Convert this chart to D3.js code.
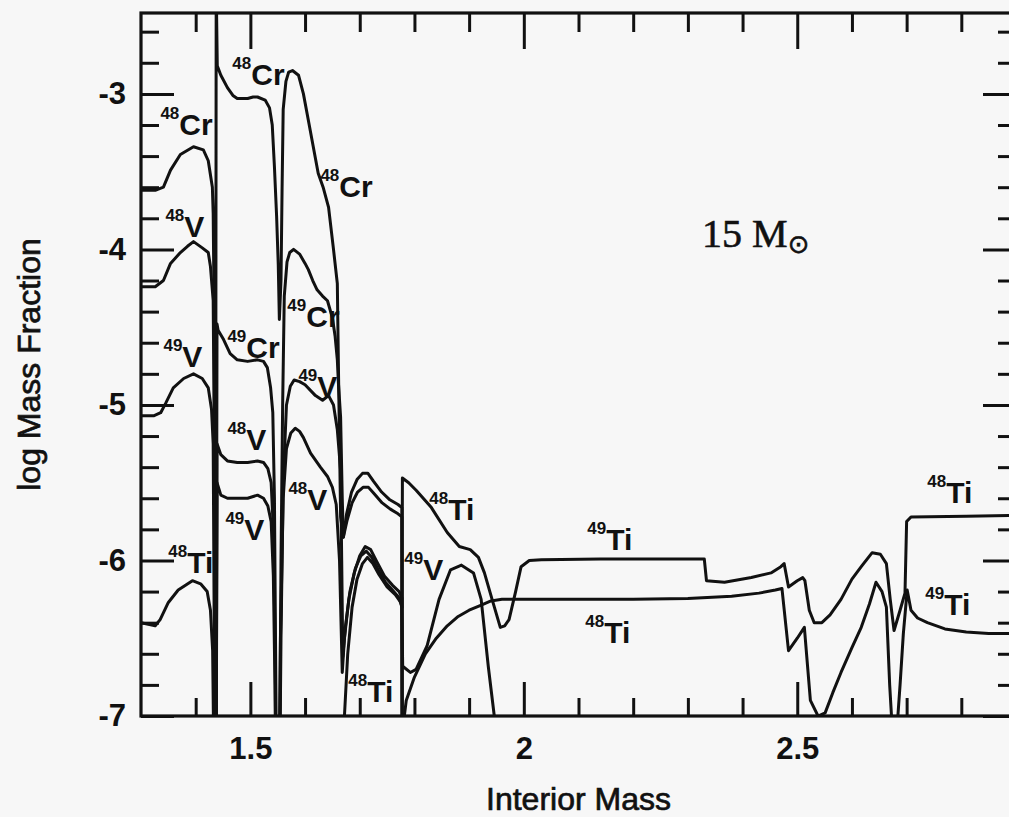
<!DOCTYPE html>
<html><head><meta charset="utf-8">
<script src="https://cdn.jsdelivr.net/npm/d3@7"></script>
<style>
html,body{margin:0;padding:0;background:#f7f7f7;}
svg{display:block;}
</style></head><body>
<svg id="chart" width="1009" height="817"></svg>
<script>
// ---------- data ----------
const xTickLabels = [1.5, 2, 2.5];
const yTickLabels = [-7, -6, -5, -4, -3];

const cr48 = [
[1.300,-3.62],[1.326,-3.62],[1.341,-3.60],[1.354,-3.49],[1.372,-3.39],[1.396,-3.34],[1.414,-3.36],[1.423,-3.43],[1.4305,-3.60],[1.432,-3.77],[1.434,-4.5],[1.436,-8],
[1.4375,-2.3],[1.4395,-2.82],[1.446,-2.88],[1.458,-2.96],[1.468,-3.01],[1.476,-3.03],[1.495,-3.03],[1.505,-3.02],[1.513,-3.02],[1.527,-3.04],[1.535,-3.09],[1.540,-3.2],[1.544,-3.47],[1.548,-3.79],[1.551,-4.1],[1.553,-4.45],[1.556,-4.2],[1.558,-3.6],[1.560,-3.1],[1.565,-2.92],[1.570,-2.86],[1.577,-2.85],[1.588,-2.88],[1.597,-3.0],[1.606,-3.17],[1.615,-3.34],[1.624,-3.51],[1.633,-3.60],[1.643,-3.73],[1.652,-4.0],[1.659,-4.22],[1.661,-4.76],[1.665,-5.72],[1.670,-5.85],
[1.676,-5.7],[1.685,-5.56],[1.695,-5.48],[1.705,-5.44],[1.715,-5.44],[1.725,-5.49],[1.740,-5.56],[1.755,-5.61],[1.770,-5.64],[1.777,-5.66],[1.778,-8],[1.80,-8]
];

const cr49 = [
[1.437,-8],[1.439,-4.48],[1.441,-4.52],[1.451,-4.58],[1.463,-4.67],[1.476,-4.71],[1.495,-4.72],[1.513,-4.71],[1.524,-4.72],[1.531,-4.76],[1.537,-4.89],[1.541,-5.05],[1.544,-5.6],[1.547,-7],[1.549,-8],
[1.552,-8],[1.556,-6],[1.559,-5.0],[1.562,-4.3],[1.567,-4.08],[1.572,-4.02],[1.579,-4.0],[1.590,-4.03],[1.600,-4.09],[1.606,-4.13],[1.614,-4.2],[1.622,-4.26],[1.632,-4.3],[1.641,-4.33],[1.650,-4.44],[1.655,-4.56],[1.659,-4.71],[1.661,-4.86],[1.665,-5.08],[1.668,-5.6],[1.670,-5.85],
[1.677,-5.74],[1.686,-5.63],[1.696,-5.56],[1.706,-5.53],[1.716,-5.53],[1.726,-5.57],[1.741,-5.63],[1.756,-5.67],[1.770,-5.70],[1.777,-5.72],[1.778,-8]
];

const v48 = [
[1.300,-4.24],[1.326,-4.24],[1.341,-4.20],[1.354,-4.09],[1.372,-4.02],[1.385,-3.98],[1.396,-3.95],[1.412,-3.99],[1.423,-4.02],[1.427,-4.11],[1.432,-4.33],[1.434,-5.2],[1.436,-8],
[1.437,-8],[1.439,-5.25],[1.446,-5.32],[1.458,-5.36],[1.476,-5.37],[1.495,-5.37],[1.513,-5.36],[1.524,-5.37],[1.532,-5.41],[1.538,-5.5],[1.542,-5.8],[1.545,-6.5],[1.548,-8],
[1.551,-8],[1.555,-6.5],[1.560,-5.6],[1.566,-5.28],[1.574,-5.18],[1.582,-5.15],[1.590,-5.17],[1.597,-5.21],[1.610,-5.31],[1.628,-5.40],[1.641,-5.46],[1.650,-5.53],[1.657,-5.64],[1.663,-6.0],[1.668,-6.72],
[1.672,-6.5],[1.680,-6.25],[1.690,-6.08],[1.700,-5.97],[1.710,-5.91],[1.720,-5.93],[1.730,-6.0],[1.745,-6.1],[1.760,-6.16],[1.772,-6.2],[1.777,-6.24],[1.778,-8]
];

const v49 = [
[1.300,-5.07],[1.323,-5.07],[1.336,-5.05],[1.345,-4.99],[1.359,-4.89],[1.378,-4.83],[1.396,-4.80],[1.412,-4.83],[1.423,-4.89],[1.429,-5.03],[1.432,-5.25],[1.434,-6.5],[1.436,-8],
[1.437,-8],[1.439,-5.5],[1.446,-5.58],[1.458,-5.6],[1.476,-5.6],[1.495,-5.6],[1.513,-5.58],[1.524,-5.6],[1.532,-5.65],[1.538,-5.75],[1.542,-6.1],[1.545,-6.8],[1.548,-8],
[1.552,-8],[1.556,-6.5],[1.560,-5.5],[1.566,-5.0],[1.573,-4.88],[1.580,-4.84],[1.590,-4.85],[1.600,-4.87],[1.619,-4.94],[1.632,-4.97],[1.643,-4.94],[1.652,-5.0],[1.659,-5.16],[1.665,-5.42],[1.667,-6.0],[1.669,-6.62],
[1.674,-6.42],[1.682,-6.2],[1.692,-6.05],[1.702,-5.97],[1.712,-5.94],[1.722,-5.98],[1.732,-6.05],[1.747,-6.14],[1.762,-6.2],[1.772,-6.24],[1.777,-6.3],[1.7785,-6.68],
[1.7925,-6.72],[1.803,-6.70],[1.823,-6.55],[1.845,-6.25],[1.866,-6.06],[1.886,-6.03],[1.908,-6.08],[1.922,-6.25],[1.935,-6.68],[1.946,-7.0],[1.955,-7.3]
];

const ti48 = [
[1.300,-6.40],[1.326,-6.42],[1.335,-6.38],[1.350,-6.27],[1.368,-6.19],[1.394,-6.13],[1.409,-6.15],[1.421,-6.20],[1.427,-6.32],[1.431,-6.58],[1.434,-7.5],[1.436,-8],
[1.666,-8],[1.668,-7.5],[1.672,-7.0],[1.678,-6.6],[1.686,-6.3],[1.695,-6.12],[1.705,-6.02],[1.714,-5.98],[1.724,-6.02],[1.735,-6.09],[1.750,-6.17],[1.765,-6.22],[1.775,-6.27],[1.7775,-6.3],[1.778,-5.47],
[1.7895,-5.5],[1.8035,-5.55],[1.831,-5.66],[1.860,-5.82],[1.882,-5.91],[1.902,-5.93],[1.917,-5.98],[1.928,-6.08],[1.942,-6.25],[1.957,-6.43],[1.965,-6.42],[1.973,-6.38],[1.985,-6.2],[1.995,-6.04],[2.010,-6.0],[2.032,-5.995],[2.140,-5.99],[2.250,-5.99],[2.330,-5.99],[2.334,-6.13],[2.367,-6.14],[2.416,-6.11],[2.452,-6.08],[2.470,-6.04],[2.476,-6.02],[2.484,-6.17],[2.500,-6.13],[2.510,-6.11],[2.514,-6.13],[2.522,-6.32],[2.531,-6.40],[2.545,-6.40],[2.560,-6.35],[2.580,-6.25],[2.600,-6.12],[2.617,-6.04],[2.637,-5.95],[2.652,-5.96],[2.663,-6.02],[2.670,-6.25],[2.677,-6.45],[2.688,-6.32],[2.697,-6.21],[2.700,-5.75],[2.708,-5.72],[2.809,-5.715],[2.900,-5.71]
];

const ti49 = [
[1.778,-7.3],[1.7815,-7.0],[1.785,-6.9],[1.800,-6.75],[1.820,-6.6],[1.840,-6.5],[1.860,-6.42],[1.880,-6.36],[1.900,-6.32],[1.920,-6.29],[1.940,-6.26],[1.960,-6.25],[2.000,-6.25],[2.100,-6.25],[2.200,-6.25],[2.300,-6.245],[2.380,-6.23],[2.430,-6.21],[2.460,-6.19],[2.472,-6.18],[2.484,-6.58],[2.500,-6.5],[2.513,-6.43],[2.524,-6.9],[2.538,-7.0],[2.551,-6.98],[2.565,-6.85],[2.580,-6.72],[2.600,-6.56],[2.617,-6.43],[2.632,-6.28],[2.644,-6.14],[2.655,-6.2],[2.663,-6.3],[2.669,-6.8],[2.674,-7.1],[2.680,-7.2],[2.688,-6.8],[2.694,-6.47],[2.701,-6.19],[2.708,-6.32],[2.720,-6.37],[2.738,-6.40],[2.770,-6.44],[2.809,-6.46],[2.850,-6.47],[2.900,-6.47]
];

const labelIso  = ["48","48","48","48","49","49","49","49","48","48","49","48","48","48","49","49","48","48","49"];
const labelElem = ["Cr","Cr","Cr","V","Cr","Cr","V","V","V","V","V","Ti","Ti","Ti","V","Ti","Ti","Ti","Ti"];
const labelX = [1.3355,1.467,1.628,1.3446,1.458,1.5676,1.341,1.5878,1.458,1.5695,1.4543,1.350,1.679,1.827,1.7815,2.116,2.1124,2.7377,2.734];
const labelY = [-3.266,-2.945,-3.665,-3.922,-4.699,-4.5,-4.757,-4.95,-5.29,-5.676,-5.869,-6.081,-6.91,-5.74,-6.126,-5.933,-6.531,-5.631,-6.351];

const massNote = {x: 2.326, y: -3.986, text: "15 M", sub: "\u2299"};

// ---------- layout ----------
const svg = d3.select("#chart");
const L = 141, R = 1016, T = 13, B = 716;
const x = d3.scaleLinear().domain([1.3, 2.9]).range([L, R]);
const y = d3.scaleLinear().domain([-7, -2.48]).range([B, T]);
const ink = "#111";
const sans = "'Liberation Sans', Arial, Helvetica, sans-serif";

svg.append("rect").attr("width",1009).attr("height",817).attr("fill","#f7f7f7");

const xMinor = d3.range(14, 29).map(i => i/10).filter(v => !xTickLabels.includes(v));
const yMinor = d3.range(0, 23).map(i => Math.round((-7 + i*0.2)*10)/10).filter(v => !Number.isInteger(v));

function styleAxis(g){
  g.select(".domain").remove();
  g.selectAll(".tick line").attr("stroke", ink).attr("stroke-width", 3);
  g.selectAll(".tick text").attr("fill", ink).attr("font-family", sans)
    .attr("font-size", 31).attr("font-weight", "bold");
}

// bottom
svg.append("g").attr("transform",`translate(0,${B})`)
  .call(d3.axisBottom(x).tickValues(xMinor).tickSize(-18).tickSizeOuter(0).tickFormat(""))
  .call(styleAxis);
svg.append("g").attr("transform",`translate(0,${B})`)
  .call(d3.axisBottom(x).tickValues(xTickLabels).tickSize(-34).tickSizeOuter(0).tickPadding(21).tickFormat(d => String(d)))
  .call(styleAxis);
// top
svg.append("g").attr("transform",`translate(0,${T})`)
  .call(d3.axisTop(x).tickValues(xMinor).tickSize(-19).tickSizeOuter(0).tickFormat(""))
  .call(styleAxis);
svg.append("g").attr("transform",`translate(0,${T})`)
  .call(d3.axisTop(x).tickValues(xTickLabels).tickSize(-36).tickSizeOuter(0).tickFormat(""))
  .call(styleAxis);
// left
svg.append("g").attr("transform",`translate(${L},0)`)
  .call(d3.axisLeft(y).tickValues(yMinor).tickSize(-18).tickSizeOuter(0).tickFormat(""))
  .call(styleAxis);
svg.append("g").attr("transform",`translate(${L},0)`)
  .call(d3.axisLeft(y).tickValues(yTickLabels).tickSize(-33).tickSizeOuter(0).tickPadding(15).tickFormat(d => String(d)))
  .call(styleAxis);
// right
svg.append("g").attr("transform",`translate(${R},0)`)
  .call(d3.axisRight(y).tickValues(yMinor).tickSize(-18).tickSizeOuter(0).tickFormat(""))
  .call(styleAxis);
svg.append("g").attr("transform",`translate(${R},0)`)
  .call(d3.axisRight(y).tickValues(yTickLabels).tickSize(-33).tickSizeOuter(0).tickFormat(""))
  .call(styleAxis);

// frame
svg.append("rect").attr("x",L).attr("y",T).attr("width",R-L).attr("height",B-T)
  .attr("fill","none").attr("stroke",ink).attr("stroke-width",3.2);

// curves
svg.append("clipPath").attr("id","plotclip").append("rect")
  .attr("x",L).attr("y",T).attr("width",R-L).attr("height",B-T);
const line = d3.line().x(d => x(d[0])).y(d => y(d[1]));
const series = [cr48, cr49, v48, v49, ti48, ti49];
svg.append("g").attr("clip-path","url(#plotclip)")
  .selectAll("path").data(series).join("path")
  .attr("d", line).attr("fill","none").attr("stroke",ink)
  .attr("stroke-width",3).attr("stroke-linejoin","round");

// curve labels
const lab = svg.append("g").attr("fill", ink).attr("font-family", sans).attr("font-weight","bold");
labelX.forEach((lx, i) => {
  const t = lab.append("text").attr("x", x(lx)).attr("y", y(labelY[i]));
  t.append("tspan").attr("font-size",17).attr("dy",-16).text(labelIso[i]);
  t.append("tspan").attr("font-size",30).attr("dy",16).text(labelElem[i]);
});

// mass annotation
const mt = svg.append("text").attr("x", x(massNote.x)).attr("y", y(massNote.y))
  .attr("fill", ink).attr("font-family","'Liberation Serif','Times New Roman',serif").attr("font-size",40)
  .attr("stroke", ink).attr("stroke-width", 0.6);
mt.append("tspan").text(massNote.text);
mt.append("tspan").attr("font-family","'DejaVu Sans',sans-serif").attr("font-size",26).attr("dy",6).text(massNote.sub);

// axis titles
svg.append("text").attr("x",(L+R)/2).attr("y",810).attr("text-anchor","middle")
  .attr("fill",ink).attr("stroke",ink).attr("stroke-width",0.7)
  .attr("font-family",sans).attr("font-size",32).text("Interior Mass");
svg.append("text").attr("transform",`translate(40,${(T+B)/2}) rotate(-90)`).attr("text-anchor","middle")
  .attr("fill",ink).attr("stroke",ink).attr("stroke-width",0.7)
  .attr("font-family",sans).attr("font-size",32).text("log Mass Fraction");
</script>
</body></html>
